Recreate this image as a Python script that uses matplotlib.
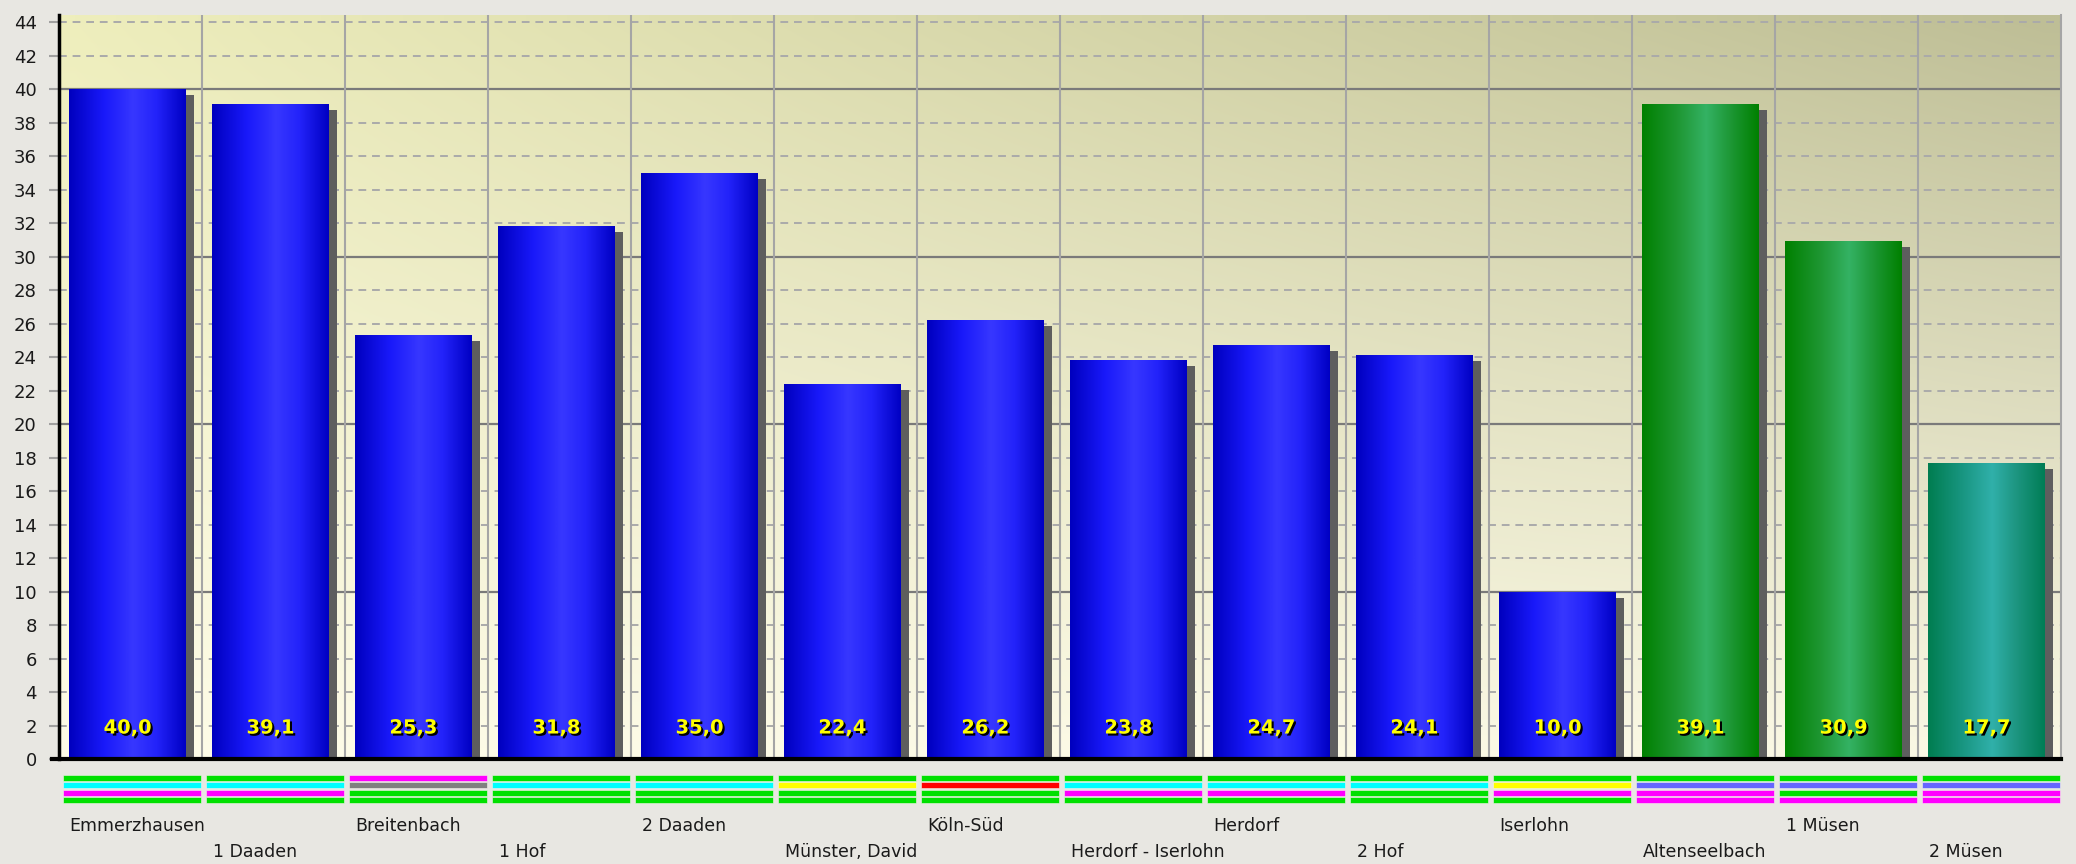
import numpy as np
import matplotlib.pyplot as plt
import matplotlib.patheffects as pe
from matplotlib.transforms import ScaledTranslation, blended_transform_factory

# Bar data
labels = ['Emmerzhausen', '1 Daaden', 'Breitenbach', '1 Hof', '2 Daaden',
          'Münster, David', 'Köln-Süd', 'Herdorf - Iserlohn', 'Herdorf',
          '2 Hof', 'Iserlohn', 'Altenseelbach', '1 Müsen', '2 Müsen']
values = [40.0, 39.1, 25.3, 31.8, 35.0, 22.4, 26.2, 23.8, 24.7, 24.1, 10.0,
          39.1, 30.9, 17.7]
bar_kind = ['blue'] * 11 + ['green', 'green', 'teal']

# Four colour stripes under every bar, top to bottom
stripes = [
    ['green', 'cyan', 'magenta', 'green'],
    ['green', 'cyan', 'magenta', 'green'],
    ['magenta', 'gray', 'green', 'green'],
    ['green', 'cyan', 'green', 'green'],
    ['green', 'cyan', 'green', 'green'],
    ['green', 'yellow', 'green', 'green'],
    ['green', 'red', 'green', 'green'],
    ['green', 'cyan', 'magenta', 'green'],
    ['green', 'cyan', 'magenta', 'green'],
    ['green', 'cyan', 'green', 'green'],
    ['green', 'yellow', 'magenta', 'green'],
    ['green', 'slate', 'magenta', 'magenta'],
    ['green', 'slate', 'green', 'magenta'],
    ['green', 'slate', 'magenta', 'magenta'],
]

stripe_colors = {'green': '#00E000', 'cyan': '#00FFFF', 'magenta': '#FF00FF',
                 'gray': '#808080', 'yellow': '#FFFF00', 'red': '#FF0000',
                 'slate': '#6666FF'}

# horizontal shading profiles for the bars (position, rgb)
profile_pos = [0.0, 0.3, 0.55, 0.75, 1.0]
profiles = {
    'blue': [(0, 0, 190), (25, 25, 250), (55, 55, 255), (35, 35, 250), (0, 0, 195)],
    'green': [(0, 128, 0), (30, 150, 50), (52, 178, 100), (30, 152, 55), (0, 128, 0)],
    'teal': [(0, 125, 80), (25, 150, 130), (48, 176, 170), (30, 150, 130), (0, 125, 85)],
}


def shade(kind, n=200):
    t = np.linspace(0, 1, n)
    cols = np.array(profiles[kind], dtype=float) / 255
    row = np.stack([np.interp(t, profile_pos, cols[:, c]) for c in range(3)], axis=1)
    return row[np.newaxis, :, :]


W, H = 2076, 864
fig = plt.figure(figsize=(W / 100, H / 100), dpi=100)
fig.patch.set_facecolor('#E8E7E2')

left, right, top, bottom = 59, 2061, 15, 759
ax = fig.add_axes([left / W, 1 - bottom / H, (right - left) / W, (bottom - top) / H])
n = len(values)
ymax = 44.42

# plot background: pale yellow, darker towards the upper right
tl, tr = np.array([238, 238, 188]), np.array([190, 190, 150])
bl, br = np.array([254, 252, 232]), np.array([250, 248, 228])
u = np.linspace(0, 1, 64)[np.newaxis, :, np.newaxis]
v = np.linspace(0, 1, 64)[:, np.newaxis, np.newaxis]
bg = ((1 - v) * ((1 - u) * tl + u * tr) + v * ((1 - u) * bl + u * br)) / 255
ax.imshow(bg, extent=[0, 1, 0, 1], transform=ax.transAxes, aspect='auto',
          interpolation='bilinear', zorder=0)

# grid
for y in range(2, 45, 2):
    if y % 10 == 0:
        ax.axhline(y, color='#7A7A7A', lw=1.6, zorder=1)
    else:
        ax.axhline(y, color='#AAAAAA', lw=1.4, ls=(0, (4, 3)), zorder=1)
for x in range(1, n):
    ax.axvline(x, color='#A5A5A5', lw=1.5, zorder=1)

xpos = np.arange(n) + 0.07
bw = 0.818

# drop shadows
shadow_tr = ax.transData + ScaledTranslation(8 / 100, -6 / 100, fig.dpi_scale_trans)
ax.bar(xpos, values, width=bw, align='edge', color='#5E5E5E', zorder=2,
       transform=shadow_tr)

# bars with cylinder shading
bars = ax.bar(xpos, values, width=bw, align='edge', color='#2020F0', zorder=3)
for patch, kind, val in zip(bars, bar_kind, values):
    x0 = patch.get_x()
    im = ax.imshow(shade(kind), extent=[x0, x0 + patch.get_width(), 0, patch.get_height()],
                   aspect='auto', interpolation='bilinear', zorder=3.5)
    im.set_clip_path(patch)
    ax.text(x0 + patch.get_width() / 2, 1.85, f'{val:.1f}'.replace('.', ','),
            ha='center', va='center', color='#FFFF00', fontsize=14,
            fontweight='bold', zorder=5,
            path_effects=[pe.withSimplePatchShadow(offset=(1.5, -1.5),
                                                   shadow_rgbFace='black', alpha=1)])

ax.set_xlim(0, n)
ax.set_ylim(0, ymax)
ax.set_xticks([])
ax.set_yticks(range(0, 45, 2))
ax.tick_params(axis='y', length=7, width=1.5, color='#A0A0A0', pad=9,
               labelsize=13, labelcolor='#1A1A1A')
ax.spines['top'].set_visible(False)
ax.spines['bottom'].set_visible(False)
ax.spines['right'].set_color('#A5A5A5')
ax.spines['right'].set_linewidth(1.5)
ax.spines['left'].set_color('black')
ax.spines['left'].set_linewidth(2.5)
ax.plot([-7 / (right - left), 1], [0, 0], transform=ax.transAxes, color='black',
        lw=3, clip_on=False, zorder=6)

# colour stripes below the axis
s_top, s_bot = 774, 804
ax2 = fig.add_axes([left / W, 1 - s_bot / H, (right - left) / W, (s_bot - s_top) / H])
ax2.set_xlim(0, n)
ax2.set_ylim(4, 0)
ax2.axis('off')
for i, rows in enumerate(stripes):
    for k, c in enumerate(rows):
        ax2.bar(i + 0.03, 0.78, width=0.96, bottom=k + 0.11, align='edge',
                color=stripe_colors[c], edgecolor='#F4F4EC', lw=0.4)

# category labels in two staggered rows
lbl_tr = blended_transform_factory(ax.transData, fig.transFigure)
for i, name in enumerate(labels):
    yrow = 826 if i % 2 == 0 else 852
    ax.text(i + 0.075, 1 - yrow / H, name, transform=lbl_tr, ha='left',
            va='center', fontsize=12.5, color='#1A1A1A')

fig.savefig('out.png', dpi=100, facecolor=fig.get_facecolor())
